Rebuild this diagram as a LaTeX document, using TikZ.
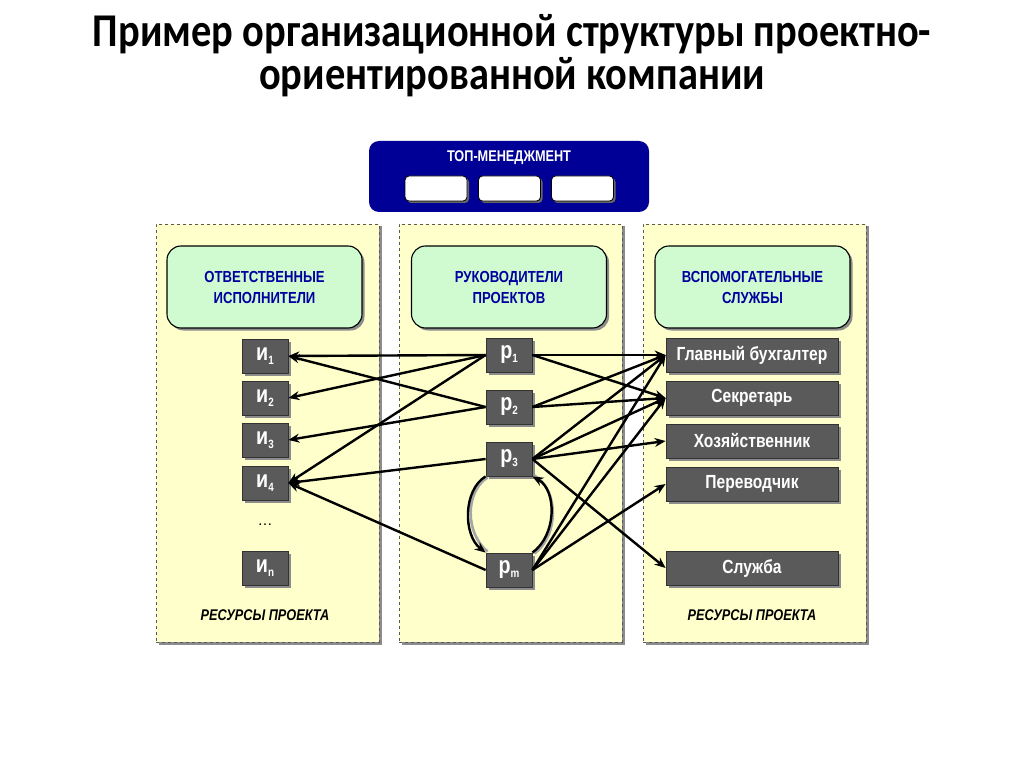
\documentclass[tikz,border=0pt]{standalone}
\usepackage{fontspec}
\setmainfont{Liberation Sans}
\newfontfamily\nar[FakeStretch=0.82]{Liberation Sans}
\newfontfamily\ttl[FakeStretch=0.86]{Carlito}
\usetikzlibrary{shadows,arrows.meta}
\definecolor{navy}{RGB}{0,0,150}
\definecolor{paneliv}{RGB}{255,255,204}
\definecolor{hdrgreen}{RGB}{208,250,208}
\definecolor{hdrblue}{RGB}{0,0,160}
\definecolor{boxgray}{RGB}{90,90,90}
\newcommand{\sbs}[1]{\raisebox{-4pt}{\fontsize{12}{12}\selectfont #1}}
\tikzset{
  shd/.style={drop shadow={shadow xshift=2.5pt,shadow yshift=-2.5pt,fill=black!45,opacity=1}},
  panel/.style={draw=black!65,dashed,line width=0.9pt,fill=paneliv,shd,minimum width=223,minimum height=418},
  hdr/.style={draw=black,line width=1.1pt,rounded corners=14pt,fill=hdrgreen,shd,minimum width=195,minimum height=82,
     align=center,text=hdrblue,font=\nar\bfseries\fontsize{16}{21}\selectfont},
  sbox/.style={draw=black!80,line width=0.8pt,fill=boxgray,shd,text=white,minimum width=46,minimum height=34,
     font=\nar\bfseries\fontsize{24}{24}\selectfont,inner sep=0pt},
  rbox/.style={draw=black!80,line width=0.8pt,fill=boxgray,shd,text=white,minimum width=172,minimum height=34,
     font=\nar\bfseries\fontsize{19}{20}\selectfont,inner sep=0pt},
  wbox/.style={draw=black,line width=0.8pt,fill=white,rounded corners=4pt,minimum width=62,minimum height=25,
     drop shadow={shadow xshift=2pt,shadow yshift=-2pt,fill=black!60,opacity=1}},
  arr/.style={-{Stealth[length=11pt,width=9pt]},line width=2.4pt,black},
  curveshd/.style={line width=2.6pt,black!35},
  res/.style={font=\nar\bfseries\itshape\fontsize{15.5}{17}\selectfont}
}
\begin{document}
\begin{tikzpicture}[x=1pt,y=-1pt]
\useasboundingbox[fill=white] (0,0) rectangle (1024,767);
% title
\node[anchor=base,font=\ttl\bfseries\fontsize{47}{50}\selectfont,inner sep=0pt] (t1) at (512,47) {Пример организационной структуры проектно-};
\node[anchor=base,font=\ttl\bfseries\fontsize{47}{50}\selectfont,inner sep=0pt] (t2) at (512,90) {ориентированной компании};
% top management
\node[fill=navy,rounded corners=10pt,minimum width=280,minimum height=71] (top) at (509,176.5) {};
\node[text=white,font=\nar\bfseries\fontsize{15.5}{17}\selectfont] (toptxt) at (509,158) {ТОП-МЕНЕДЖМЕНТ};
\node[wbox] (w1) at (436,188.5) {};
\node[wbox] (w2) at (509.5,188.5) {};
\node[wbox] (w3) at (582.5,188.5) {};
% panels
\node[panel] (pl) at (267.5,433) {};
\node[panel] (pc) at (510.5,433) {};
\node[panel] (pr) at (754.5,433) {};
% headers
\node[hdr] (hl) at (264.5,287) {ОТВЕТСТВЕННЫЕ\\ИСПОЛНИТЕЛИ};
\node[hdr] (hc) at (509,287) {РУКОВОДИТЕЛИ\\ПРОЕКТОВ};
\node[hdr] (hr) at (752.5,287) {ВСПОМОГАТЕЛЬНЫЕ\\СЛУЖБЫ};
% left boxes
\node[sbox] (i1) at (265,356) {и\sbs{1}};
\node[sbox] (i2) at (265,398) {и\sbs{2}};
\node[sbox] (i3) at (265,440) {и\sbs{3}};
\node[sbox] (i4) at (265,483) {и\sbs{4}};
\node[font=\fontsize{15}{15}\selectfont] (dots) at (265,525) {\dots};
\node[sbox] (in) at (265,568) {и\sbs{n}};
% middle boxes
\node[sbox] (p1) at (509,355) {р\sbs{1}};
\node[sbox] (p2) at (509,407) {р\sbs{2}};
\node[sbox] (p3) at (509,459) {р\sbs{3}};
\node[sbox] (pm) at (509,570) {р\sbs{m}};
% right boxes
\node[rbox] (s1) at (752,355) {Главный бухгалтер};
\node[rbox] (s2) at (752,398) {Секретарь};
\node[rbox] (s3) at (752,441) {Хозяйственник};
\node[rbox] (s4) at (752,484) {Переводчик};
\node[rbox] (s5) at (752,568) {Служба};
% resources labels
\node[res] (rl) at (265,615) {РЕСУРСЫ ПРОЕКТА};
\node[res] (rr) at (752,615) {РЕСУРСЫ ПРОЕКТА};
% left arrows
\draw[arr] (p1.west) -- (i1.east);
\draw[arr] (p2.west) -- (i1.east);
\draw[arr] (p1.west) -- (i2.east);
\draw[arr] (p2.west) -- (i3.east);
\draw[arr] (p1.west) -- (i4.east);
\draw[arr] (p3.west) -- (i4.east);
\draw[arr] (pm.west) -- (i4.east);
% right arrows
\draw[arr] (p1.east) -- (s1.west);
\draw[arr] (p1.east) -- (s2.west);
\draw[arr] (p2.east) -- (s1.west);
\draw[arr] (p2.east) -- (s2.west);
\draw[arr] (p3.east) -- (s1.west);
\draw[arr] (p3.east) -- (s2.west);
\draw[arr] (p3.east) -- (s3.west);
\draw[arr] (p3.east) -- (s5.west);
\draw[arr] (pm.east) -- (s1.west);
\draw[arr] (pm.east) -- (s2.west);
\draw[arr] (pm.east) -- (s4.west);
% loop curves
\draw[curveshd] ([xshift=2pt,yshift=-1pt]p3.south west) .. controls (465,492) and (465,533) .. ([xshift=2pt,yshift=1pt]pm.north west);
\draw[arr] (p3.south west) .. controls (463,490) and (463,535) .. (pm.north west);
\draw[curveshd] ([xshift=2pt,yshift=-1pt]pm.north east) .. controls (559,535) and (559,490) .. ([xshift=2pt,yshift=1pt]p3.south east);
\draw[arr] (pm.north east) .. controls (557,535) and (557,490) .. (p3.south east);
\end{tikzpicture}
\end{document}
